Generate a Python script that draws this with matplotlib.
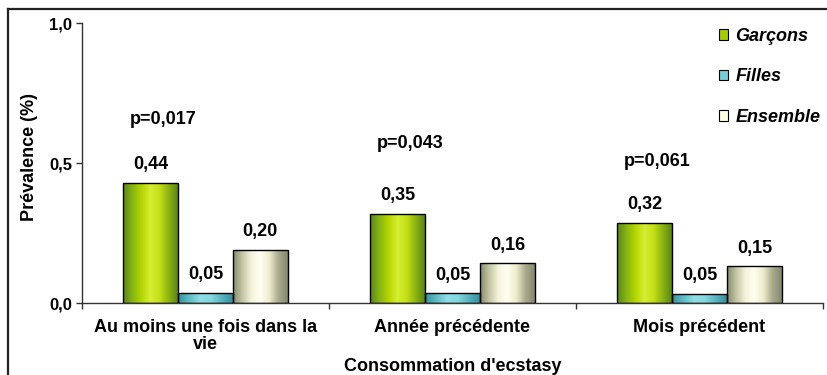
import matplotlib
matplotlib.use("Agg")
import matplotlib.pyplot as plt
import numpy as np
from matplotlib.colors import LinearSegmentedColormap
from matplotlib.lines import Line2D
from matplotlib.patches import Patch
from matplotlib.ticker import FuncFormatter

plt.rcParams['font.family'] = ['Liberation Sans', 'DejaVu Sans']
plt.rcParams['font.weight'] = 'bold'

# Data (bar heights, labels as printed)
categories = ["Au moins une fois dans la\nvie", "Année précédente", "Mois précédent"]
series_names = ["Garçons", "Filles", "Ensemble"]
garcons = [0.43, 0.318, 0.287]
filles = [0.036, 0.035, 0.033]
ensemble = [0.19, 0.142, 0.131]
garcons_labels = ["0,44", "0,35", "0,32"]
filles_labels = ["0,05", "0,05", "0,05"]
ensemble_labels = ["0,20", "0,16", "0,15"]
p_values = ["p=0,017", "p=0,043", "p=0,061"]

# layout: p-value text offset above the Garçons bar
p_offsets = [0.225, 0.252, 0.217]

gradients = [
    ['#5a8618', '#86b414', '#b4d600', '#d6ee34', '#c4e014', '#8cb412', '#5a8418'],
    ['#36909e', '#5cbcc8', '#8edee6', '#84d8e0', '#58b4c0', '#36909e'],
    ['#868a6c', '#c4c6a4', '#f4f4dc', '#fffff2', '#ececcc', '#a8aa8c', '#86886c'],
]
legend_colors = ['#a6cc00', '#74d0d8', '#fffde2']

fig = plt.figure(figsize=(8.27, 3.75), dpi=100)
ax = fig.add_axes([82 / 827, 1 - 303 / 375, 741 / 827, 280 / 375])

x = np.arange(len(categories))
w = 0.222
all_vals = [garcons, filles, ensemble]
all_labels = [garcons_labels, filles_labels, ensemble_labels]

for i, (vals, labs, stops) in enumerate(zip(all_vals, all_labels, gradients)):
    bars = ax.bar(x + (i - 1) * w, vals, w, facecolor='none', edgecolor='black',
                  linewidth=1.0, zorder=3)
    cmap = LinearSegmentedColormap.from_list('g%d' % i, stops)
    grad = np.linspace(0, 1, 128).reshape(1, -1)
    for rect, lab in zip(bars, labs):
        x0, h, bw = rect.get_x(), rect.get_height(), rect.get_width()
        im = ax.imshow(grad, cmap=cmap, extent=(x0, x0 + bw, 0, h), aspect='auto',
                       interpolation='bilinear', zorder=2)
        im.set_clip_path(rect)
        ax.annotate(lab, (x0 + bw / 2, h), xytext=(0, 13), textcoords='offset points',
                    ha='center', va='center', fontsize=13, fontweight='bold')

# p-values above the groups
for xi, g, off, p in zip(x, garcons, p_offsets, p_values):
    ax.annotate(p, (xi - w, g + off), xytext=(9, 0), textcoords='offset points',
                ha='center', va='center', fontsize=13, fontweight='bold')

ax.set_xlim(-0.5, 2.5)
ax.set_ylim(0, 1.0)
ax.set_yticks([0, 0.5, 1.0])
ax.yaxis.set_major_formatter(FuncFormatter(lambda v, _: f"{v:.1f}".replace('.', ',')))
ax.set_xticks([-0.5, 0.5, 1.5, 2.5])
ax.set_xticklabels([])
ax.set_xticks(x, minor=True)
ax.set_xticklabels(categories, minor=True, fontsize=13, fontweight='bold', linespacing=1.0)
ax.tick_params(axis='x', which='minor', length=0, pad=11.5)
ax.tick_params(axis='both', which='major', length=4, width=1.0, color='#333333',
               direction='out')
ax.tick_params(axis='y', labelsize=12, pad=3)

for s in ['top', 'right']:
    ax.spines[s].set_visible(False)
for s in ['left', 'bottom']:
    ax.spines[s].set_color('#333333')
    ax.spines[s].set_linewidth(1.0)

ax.set_xlabel("Consommation d'ecstasy", fontsize=13, fontweight='bold')
ax.xaxis.set_label_coords(0.5, -0.197)
ax.set_ylabel("Prévalence (%)", fontsize=13, fontweight='bold')
ax.yaxis.set_label_coords(-0.06, 0.52)

handles = [Patch(facecolor=c, edgecolor='black', linewidth=0.8) for c in legend_colors]
leg = fig.legend(handles, series_names, loc='upper left',
                 bbox_to_anchor=(719 / 827, 1 - 28 / 375), frameon=False,
                 prop={'size': 13, 'weight': 'bold', 'style': 'italic'},
                 handlelength=0.5, handleheight=0.5, handletextpad=0.4,
                 labelspacing=1.3, borderpad=0, borderaxespad=0)

# outer frame (left and top edges visible)
fig.add_artist(Line2D([7.5 / 827, 7.5 / 827], [0, 1 - 9 / 375], transform=fig.transFigure,
                      color='#222222', linewidth=1.6))
fig.add_artist(Line2D([7.5 / 827, 1], [1 - 9 / 375, 1 - 9 / 375], transform=fig.transFigure,
                      color='#222222', linewidth=1.6))

fig.savefig('out.png', dpi=100)
